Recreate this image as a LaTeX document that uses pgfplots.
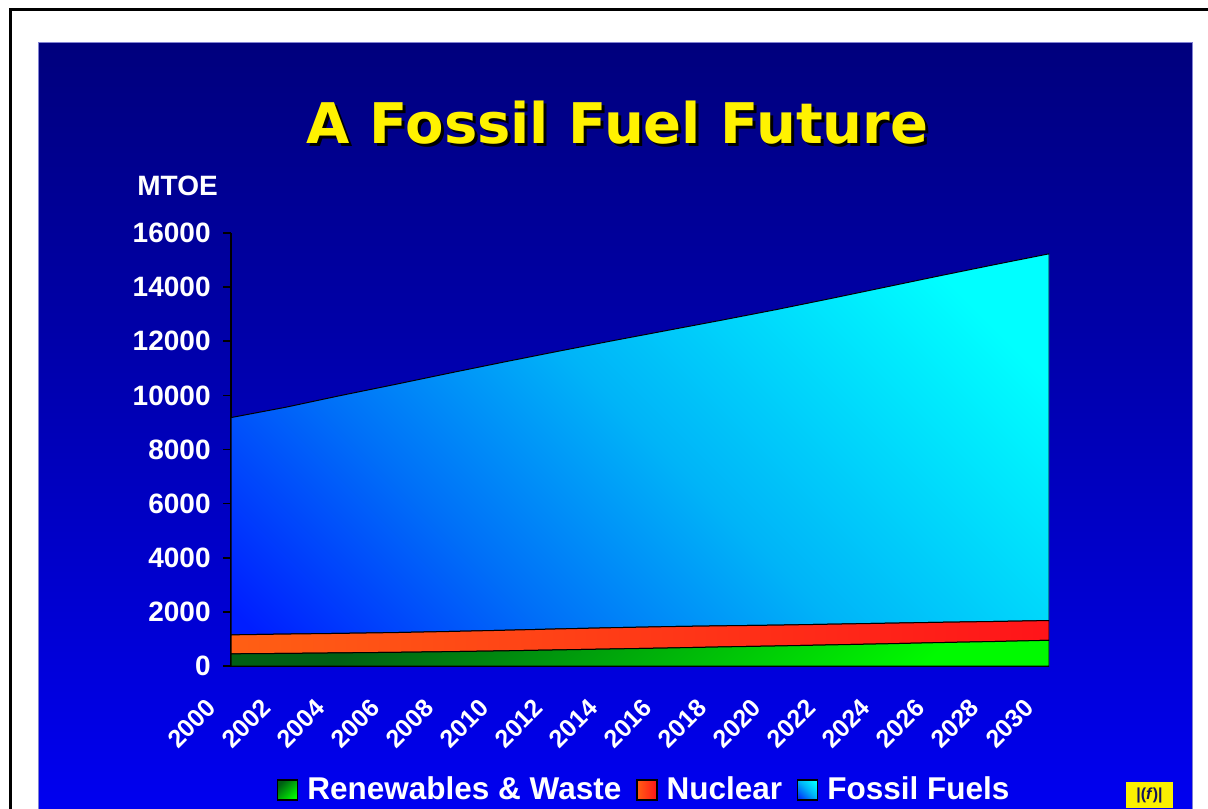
\documentclass[border=0pt]{standalone}
\usepackage{fontspec}
\setmainfont{Liberation Sans}
\newfontfamily\titlefont{DejaVu Sans}
\usepackage{pgfplots}
\pgfplotsset{compat=1.18}
\definecolor{navytop}{RGB}{0,0,125}
\definecolor{bluebot}{RGB}{0,0,240}
\definecolor{boxedge}{RGB}{130,130,210}
\definecolor{fossA}{RGB}{0,30,255}
\definecolor{fossM1}{RGB}{0,112,248}
\definecolor{fossM2}{RGB}{0,180,248}
\definecolor{fossB}{RGB}{0,255,255}
\definecolor{nucA}{RGB}{255,95,20}
\definecolor{nucB}{RGB}{255,20,25}
\definecolor{renA}{RGB}{0,95,20}
\definecolor{renB}{RGB}{0,250,0}
\definecolor{logoy}{RGB}{250,240,0}
\definecolor{logob}{RGB}{20,20,90}
\pgfdeclareverticalshading{fossshade}{100bp}{color(0bp)=(fossA); color(16bp)=(fossA); color(34bp)=(fossM1); color(51bp)=(fossM2); color(78bp)=(fossB); color(100bp)=(fossB)}

\pgfplotstableread{
year val
2000 450
2002 465
2004 485
2006 505
2008 530
2010 560
2012 595
2014 630
2016 665
2018 705
2020 740
2022 780
2024 820
2026 865
2028 905
2030 950
}\renew
\pgfplotstableread{
year val
2000 700
2002 715
2004 720
2006 730
2008 745
2010 760
2012 775
2014 785
2016 790
2018 780
2020 770
2022 765
2024 760
2026 750
2028 740
2030 730
}\nuc
\pgfplotstableread{
year val
2000 8030
2002 8380
2004 8785
2006 9165
2008 9545
2010 9910
2012 10260
2014 10605
2016 10945
2018 11295
2020 11660
2022 12035
2024 12420
2026 12805
2028 13185
2030 13550
}\foss

\begin{document}
\begin{tikzpicture}
\useasboundingbox (0,0) rectangle (604pt,404pt);
\clip (0,0) rectangle (604pt,404pt);
\fill[white] (0,0) rectangle (604pt,404pt);
\draw[black, line width=1.5pt] (5pt,-2pt) -- (5pt,399pt) -- (610pt,399pt);
\shade[top color=navytop, bottom color=bluebot] (19pt,0pt) rectangle (596pt,382.5pt);
\draw[boxedge, line width=0.5pt] (596pt,-1pt) -- (596pt,382.5pt) -- (19pt,382.5pt) -- (19pt,-1pt);
% title
\node[anchor=base, text=black, inner sep=0pt] at (310.25pt,330.5pt)
  {\titlefont\bfseries\fontsize{28}{30}\selectfont A Fossil Fuel Future};
\node[anchor=base, text=yellow, inner sep=0pt] at (308.75pt,332pt)
  {\titlefont\bfseries\fontsize{28}{30}\selectfont A Fossil Fuel Future};
% unit label
\node[anchor=base west, inner sep=0pt, text=white] at (68.5pt,306pt)
  {\bfseries\fontsize{14}{16}\selectfont MTOE};
% logo
\fill[logoy] (563pt,0pt) rectangle (586.5pt,13pt);
\node[text=logob, inner sep=0pt] at (574.75pt,6.5pt)
  {\bfseries\fontsize{8}{8}\selectfont |(\textit{f})|};

\begin{axis}[
  at={(115.5pt,71pt)}, anchor=south west,
  scale only axis, width=409pt, height=216.5pt,
  xmin=2000, xmax=2030, ymin=0, ymax=16000,
  axis x line*=bottom, axis y line*=left,
  axis line style={black, line width=0.8pt, -},
  xtick={2000,2002,...,2030}, ytick={0,2000,...,16000},
  x tick style={draw=none}, y tick style={black, line width=0.8pt},
  tick align=outside, major tick length=4pt,
  scaled ticks=false,
  /pgf/number format/1000 sep={},
  /pgf/number format/assume math mode=true,
  ticklabel style={text=white, font=\bfseries\fontsize{14}{16}\selectfont},
  yticklabel style={inner sep=0pt, xshift=-6pt},
  xticklabel style={font=\bfseries\fontsize{12.5}{15}\selectfont, xshift=-13pt, yshift=-11.5pt, rotate=45, anchor=north east, inner sep=0pt},
  stack plots=y,
  legend style={at={(0.504,-0.2864)}, anchor=center, draw=none, fill=none,
    text=white, font=\bfseries\fontsize{15.75}{18}\selectfont,
    column sep=4.5pt, nodes={inner sep=0pt},
    /tikz/every even column/.append style={column sep=7.5pt}},
  legend columns=3,
  legend image code/.code={\draw[#1, draw=black, line width=0.6pt] (0pt,-5pt) rectangle (10pt,5pt);},
]
\addplot[draw=black, line width=0.5pt, top color=renA, bottom color=renB, shading angle=45]
  table[x=year, y=val] {\renew} \closedcycle;
\addlegendentry{Renewables \& Waste}
\addplot[draw=black, line width=0.5pt, left color=nucA, right color=nucB]
  table[x=year, y=val] {\nuc} \closedcycle;
\addlegendentry{Nuclear}
\addplot[draw=black, line width=0.5pt, shade, shading=fossshade, shading angle=-45]
  table[x=year, y=val] {\foss} \closedcycle;
\addlegendentry{Fossil Fuels}
\end{axis}
\end{tikzpicture}
\end{document}
